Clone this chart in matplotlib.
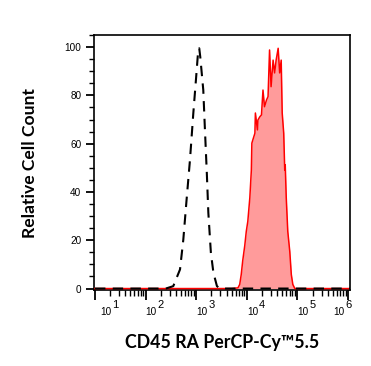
import numpy as np
import matplotlib
matplotlib.use("Agg")
import matplotlib.pyplot as plt
from matplotlib.ticker import MultipleLocator, LogLocator, NullFormatter

# isotype control (black dashed), log10 of fluorescence and relative count
ctrl_log = [1.0, 2.40, 2.547, 2.68, 2.745, 2.81, 2.877, 2.943, 3.01, 3.04, 3.06,
            3.08, 3.11, 3.14, 3.17, 3.21, 3.24, 3.29, 3.34, 3.41, 3.47, 6.1]
ctrl_cnt = [0, 0, 1.0, 7.9, 20.2, 36.8, 53.3, 72.6, 90.5, 98.8, 99.5,
            96.0, 89.1, 82.2, 67.1, 47.8, 31.4, 14.9, 6.6, 1.0, 0, 0]

# CD45RA stained sample (red filled)
cd45_log = [1.0, 3.70, 3.826, 3.86, 3.89, 3.92, 3.96, 3.99, 4.02, 4.06, 4.09,
            4.10, 4.12, 4.16, 4.17, 4.21, 4.22, 4.26, 4.29, 4.32, 4.35, 4.39,
            4.42, 4.45, 4.48, 4.52, 4.55, 4.58, 4.62, 4.65, 4.68, 4.70, 4.73,
            4.75, 4.76, 4.78, 4.81, 4.85, 4.88, 4.91, 4.95, 6.1]
cd45_cnt = [0, 0, 0.3, 1.7, 5.8, 11.6, 17.8, 23.7, 27.8, 37.6, 49,
            60.2, 61.6, 64.3, 72.7, 65.7, 69.8, 71.2, 71.9, 82.2, 75.3, 78.1,
            79.5, 98.8, 83.6, 94.6, 89.3, 94.6, 99.5, 89.3, 94.6, 72.7, 64.3,
            49, 51.2, 37.6, 23.7, 15.3, 5.8, 1.7, 0, 0]

xtick_exp = [1, 2, 3, 4, 5, 6]
ytick_vals = [0, 20, 40, 60, 80, 100]

fig = plt.figure(figsize=(3.71, 3.66), dpi=100)
ax = fig.add_axes([94 / 371, 1 - 290 / 366, 256 / 371, 255 / 366])

x_ctrl = 10 ** np.array(ctrl_log)
x_cd45 = 10 ** np.array(cd45_log)

ax.fill_between(x_cd45, cd45_cnt, 0, color="#ff9b9b", lw=0, zorder=2)
ax.plot(x_cd45, cd45_cnt, color="#ff0000", lw=1.1, zorder=3)
ax.plot(x_ctrl, ctrl_cnt, color="black", lw=1.5, linestyle=(0, (5, 3.5)), zorder=4)

ax.set_xscale("log")
ax.set_xlim(10 ** 0.98, 10 ** 6.04)
ax.set_ylim(-0.6, 105)

ax.set_xticks([10.0 ** e for e in xtick_exp])
ax.set_xticklabels([])
ax.xaxis.set_minor_locator(LogLocator(base=10, subs=np.arange(2, 10), numticks=20))
ax.xaxis.set_minor_formatter(NullFormatter())

# "10" with a large raised exponent; end labels are nudged to stay inside the axis
nudge = {1: 5, 6: -15}
for e in xtick_exp:
    dx = nudge.get(e, 0)
    ax.annotate("10", xy=(10.0 ** e, 0), xycoords=("data", "axes fraction"),
                xytext=(dx, -17), textcoords="offset pixels", ha="left", va="top",
                family="Liberation Sans", fontsize=7.2, annotation_clip=False)
    ax.annotate(str(e), xy=(10.0 ** e, 0), xycoords=("data", "axes fraction"),
                xytext=(dx + 12, -10.5), textcoords="offset pixels", ha="left", va="top",
                family="Liberation Sans", fontsize=8, annotation_clip=False)

ax.set_yticks(ytick_vals)
ax.set_yticklabels([str(v) for v in ytick_vals], family="Liberation Sans", fontsize=7.2)
ax.yaxis.set_minor_locator(MultipleLocator(5))

for s in ax.spines.values():
    s.set_linewidth(1.2)
ax.tick_params(axis="x", which="major", direction="out", length=7, width=1.3)
ax.tick_params(axis="x", which="minor", direction="out", length=4, width=1.0)
ax.tick_params(axis="y", which="major", direction="out", length=6, width=1.3, pad=3)
ax.tick_params(axis="y", which="minor", direction="out", length=3.5, width=1.0)

ax.set_xlabel("CD45 RA PerCP-Cy\u21225.5", family="Lato", fontweight="bold",
              fontsize=12.8, labelpad=21)
ax.set_ylabel("Relative Cell Count", family="Lato", fontweight="bold",
              fontsize=12.6, labelpad=19)

fig.savefig("out.png", dpi=100)
